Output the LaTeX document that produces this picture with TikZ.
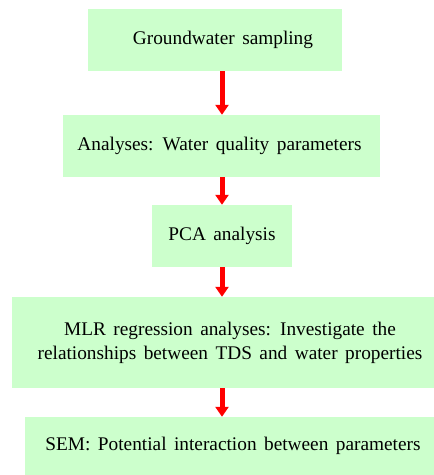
\documentclass[tikz,border=0pt]{standalone}
\usepackage{fontspec}
\setmainfont{Liberation Serif}[WordSpace=1.55]
\usetikzlibrary{arrows.meta}
\definecolor{boxgreen}{HTML}{CCFFCC}
\definecolor{arrred}{HTML}{FF0000}
\begin{document}
\begin{tikzpicture}[x=1pt,y=1pt,
  stepbox/.style={fill=boxgreen,draw=none,inner sep=0pt,align=center,
    font=\fontsize{19.3}{24}\selectfont},
  flowarrow/.style={draw=arrred,line width=5pt,-{Triangle[width=13pt,length=10pt]}}]
\useasboundingbox (0,0) rectangle (434,-475);
\node[stepbox,minimum width=254,minimum height=62] (b1) at (215,-40) {\hspace*{16pt}Groundwater sampling};
\node[stepbox,minimum width=317,minimum height=62] (b2) at (221.5,-146) {Analyses: Water quality parameters\hspace*{4pt}};
\node[stepbox,minimum width=140,minimum height=62] (b3) at (222,-236) {PCA analysis};
\node[stepbox,minimum width=422,minimum height=91] (b4) at (223,-342.5) {\hspace*{14pt}MLR regression analyses: Investigate the\\\hspace*{14pt}relationships between TDS and water properties};
\node[stepbox,minimum width=409,minimum height=58] (b5) at (229.5,-446) {\hspace*{7pt}SEM: Potential interaction between parameters};
\coordinate (ax) at (222,0);
\draw[flowarrow] (b1.south -| ax) -- (b2.north -| ax);
\draw[flowarrow] (b2.south -| ax) -- (b3.north -| ax);
\draw[flowarrow] (b3.south -| ax) -- (b4.north -| ax);
\draw[flowarrow] (b4.south -| ax) -- (b5.north -| ax);
\end{tikzpicture}
\end{document}
